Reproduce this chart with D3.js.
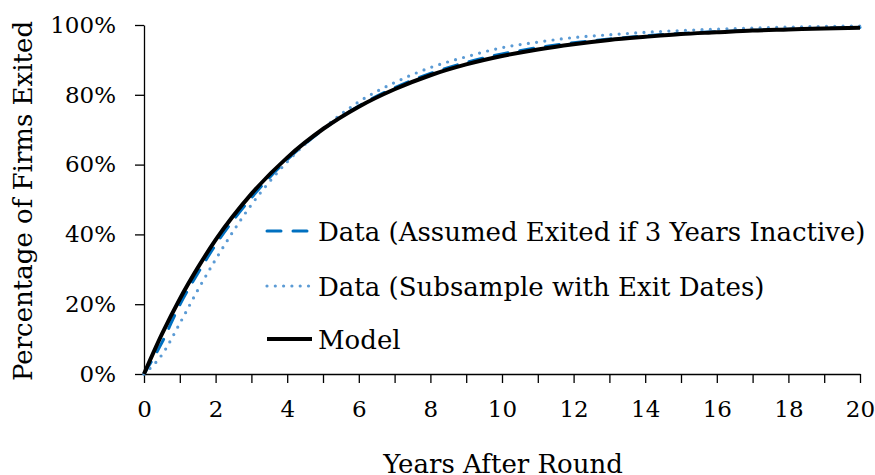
<!DOCTYPE html>
<html>
<head>
<meta charset="utf-8">
<script src="https://cdn.jsdelivr.net/npm/d3@7"></script>
<style>
  body { margin: 0; background: #fff; }
  text { font-family: "DejaVu Serif", "Liberation Serif", serif; fill: #000; }
  .axis text { font-size: 23px; }
  .axis path, .axis line { stroke: #000; stroke-width: 1.3px; }
</style>
</head>
<body>
<script>
// values (percent of firms exited)
var years = [0, 0.5, 1, 1.5, 2, 3, 4, 5, 6, 7, 8, 9, 10, 11, 12, 13, 14, 15, 16, 17, 18, 19, 20];
var modelPct  = [0, 11.4, 21.5, 30.4, 38.4, 51.6, 62.0, 70.2, 76.6, 81.6, 85.6, 88.7, 91.1, 93.0, 94.5, 95.7, 96.6, 97.4, 97.9, 98.4, 98.7, 99.0, 99.2];
var inactivePct = [0, 9.0, 19.8, 28.8, 37.0, 50.5, 61.4, 70.0, 76.8, 82.0, 86.1, 89.3, 91.7, 93.5, 94.9, 96.0, 96.9, 97.6, 98.1, 98.5, 98.8, 99.1, 99.3];
var exitDatePct = [0, 5.5, 14.5, 24.0, 32.8, 48.5, 60.8, 70.3, 78.0, 83.5, 87.8, 90.9, 93.5, 95.1, 96.4, 97.2, 97.9, 98.4, 98.8, 99.1, 99.4, 99.6, 99.7];

var xTicks = d3.range(0, 21, 1);
var yTicks = [0, 20, 40, 60, 80, 100];
var legendLabels = ["Data (Assumed Exited if 3 Years Inactive)", "Data (Subsample with Exit Dates)", "Model"];

var width = 875, height = 475;

var svg = d3.select("body").append("svg")
    .attr("width", width)
    .attr("height", height);

var x = d3.scaleLinear().domain([0, 20]).range([144, 860]);
var y = d3.scaleLinear().domain([0, 100]).range([374, 25]);

// axes
svg.append("g")
    .attr("class", "axis")
    .attr("transform", "translate(0," + y(0) + ")")
    .call(d3.axisBottom(x)
        .tickValues(xTicks)
        .tickSize(9)
        .tickSizeOuter(0)
        .tickPadding(18)
        .tickFormat(function(d) { return d % 2 === 0 ? d : ""; }));

svg.append("g")
    .attr("class", "axis")
    .attr("transform", "translate(" + x(0) + ",0)")
    .call(d3.axisLeft(y)
        .tickValues(yTicks)
        .tickSize(9)
        .tickSizeOuter(0)
        .tickPadding(19)
        .tickFormat(function(d) { return d + "%"; }));

// axis titles
svg.append("text")
    .attr("x", 503)
    .attr("y", 473)
    .attr("text-anchor", "middle")
    .style("font-size", "26px")
    .text("Years After Round");

svg.append("text")
    .attr("transform", "translate(32,201) rotate(-90)")
    .attr("text-anchor", "middle")
    .style("font-size", "26px")
    .text("Percentage of Firms Exited");

// series
var series = [
    { values: inactivePct, color: "#0070C0", width: 3, dash: "14,12", cap: "round" },
    { values: exitDatePct, color: "#5B9BD5", width: 3.2, dash: "0,8.3", cap: "round" },
    { values: modelPct, color: "#000", width: 4, dash: null, cap: "butt" }
];

var line = d3.line()
    .x(function(d) { return x(d[0]); })
    .y(function(d) { return y(d[1]); })
    .curve(d3.curveMonotoneX);

svg.append("g")
    .selectAll("path")
    .data(series)
    .enter().append("path")
        .attr("fill", "none")
        .attr("stroke", function(d) { return d.color; })
        .attr("stroke-width", function(d) { return d.width; })
        .attr("stroke-dasharray", function(d) { return d.dash; })
        .attr("stroke-linecap", function(d) { return d.cap; })
        .attr("d", function(d) {
            return line(years.map(function(t, i) { return [t, d.values[i]]; }));
        });

// legend
var legend = svg.append("g")
    .selectAll("g")
    .data(series)
    .enter().append("g")
        .attr("transform", function(d, i) { return "translate(0," + [231, 286, 339][i] + ")"; });

legend.append("line")
    .attr("x1", 267)
    .attr("x2", function(d, i) { return i === 2 ? 312 : 310; })
    .attr("stroke", function(d) { return d.color; })
    .attr("stroke-width", function(d) { return d.width; })
    .attr("stroke-dasharray", function(d) { return d.dash; })
    .attr("stroke-linecap", function(d) { return d.cap; });

legend.append("text")
    .attr("x", 318)
    .attr("y", 10)
    .style("font-size", "26px")
    .text(function(d, i) { return legendLabels[i]; });
</script>
</body>
</html>
